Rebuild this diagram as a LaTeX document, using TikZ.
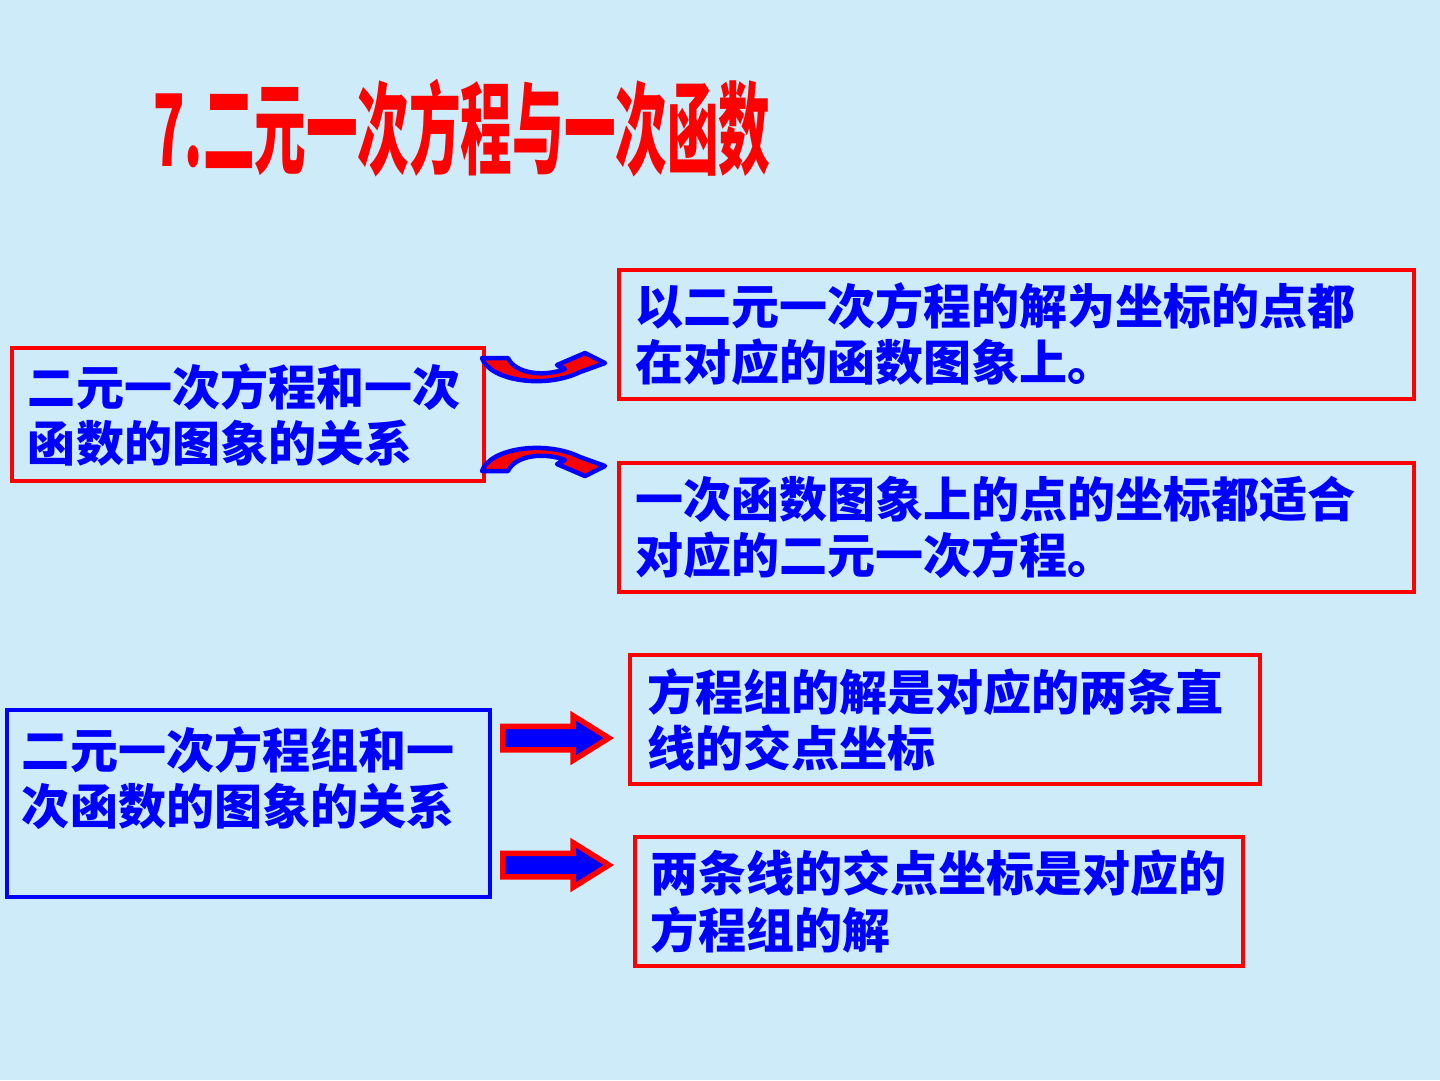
\documentclass[tikz,border=0pt]{standalone}
\usepackage{fontspec}
\usepackage{tikz}
\usetikzlibrary{shapes.arrows}
\setmainfont{Noto Sans CJK SC}
\definecolor{sky}{RGB}{206,235,250}
\definecolor{hot}{HTML}{FF0000}
\definecolor{deep}{HTML}{0000FF}

\begin{document}
\begin{tikzpicture}[x=0.1mm,y=-0.1mm,
              font=\fontsize{13.66pt}{15.94pt}\selectfont\bfseries,
              box/.style={draw=hot,line width=0.4mm,text=deep,align=left,anchor=north west,inner ysep=0pt},
              blk/.style={single arrow,draw=hot,fill=deep,line width=0.55mm,minimum height=10.6mm,
                single arrow head extend=1.05mm,single arrow tip angle=64,inner xsep=0pt,inner ysep=0.9mm,anchor=tip},
              curvy/.style={fill=hot,draw=deep,line width=0.45mm,line join=round}]
              \fill[sky] (0,0) rectangle (1440,1080);
              \node[text=hot,font=\fontsize{28.5pt}{30pt}\selectfont\bfseries] (ttl) at (462,128)
                {\scalebox{0.515}[1]{7.二元一次方程与一次函数}};
              % first group
              \node[box,text width=44mm,inner xsep=1.6mm,minimum height=13.3mm] (rel) at (10,346)
                {二元一次方程和一次\\函数的图象的关系};
              \node[box,text width=76.3mm,inner xsep=1.6mm,minimum height=12.9mm] (sol) at (617,268)
                {以二元一次方程的解为坐标的点都\\在对应的函数图象上。};
              \node[box,text width=76.3mm,inner xsep=1.6mm,minimum height=12.9mm] (pts) at (617,461)
                {一次函数图象上的点的坐标都适合\\对应的二元一次方程。};
              \draw[curvy] (482,358) .. controls (490,381) and (545,389) .. (580,372) -- (605,363) -- (585,353)
                -- (557,365) -- (565,369) .. controls (545,377) and (515,374) .. (508,358) -- cycle;
              \draw[curvy] (482,471) .. controls (490,448) and (545,440) .. (580,457) -- (605,466) -- (585,476)
                -- (557,464) -- (565,460) .. controls (545,452) and (515,455) .. (508,471) -- cycle;
              % second group
              \node[box,draw=deep,text width=45.3mm,inner xsep=1.5mm,minimum height=18.7mm] (sys) at (5,708)
                {二元一次方程组和一\\次函数的图象的关系\\\mbox{}};
              \node[box,text width=59.6mm,inner xsep=1.7mm,minimum height=12.9mm] (cut) at (628,653)
                {方程组的解是对应的两条直\\线的交点坐标};
              \node[box,text width=57.8mm,inner xsep=1.5mm,minimum height=12.9mm] (back) at (633,835)
                {两条线的交点坐标是对应的\\方程组的解};
              \node[blk] (a1) at (614,738) {};
              \node[blk] (a2) at (614,865) {};
            \end{tikzpicture}
\end{document}
